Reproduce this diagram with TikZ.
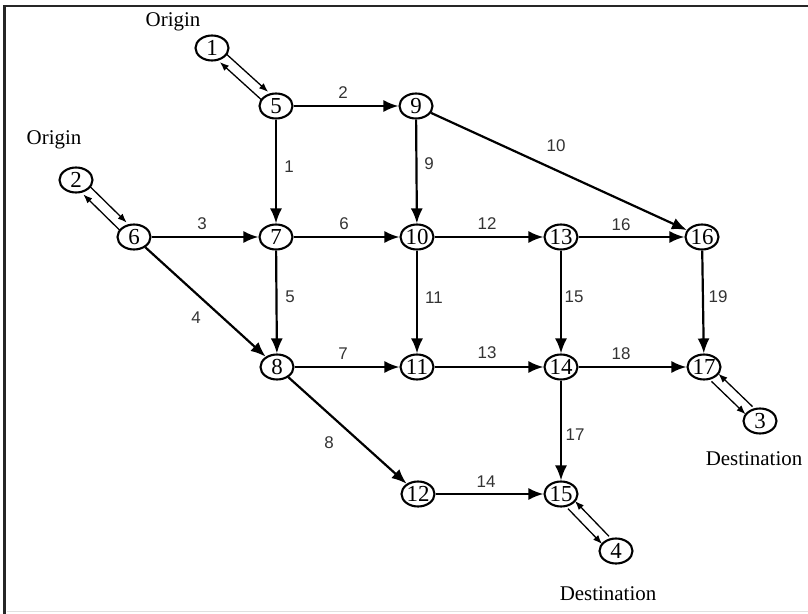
\documentclass[tikz,border=0pt]{standalone}
\usepackage{fontspec}
\setmainfont{Liberation Serif}
\newfontfamily\labelfont{Liberation Sans}
\usetikzlibrary{arrows.meta,shapes.geometric}

\begin{document}
\begin{tikzpicture}[x=1bp,y=-1bp,
  site/.style={ellipse, draw, line width=2.1bp, minimum width=33bp, minimum height=25bp,
    inner sep=0pt, font=\fontsize{23}{23}\selectfont},
  link/.style={line width=2.2bp, -{Latex[length=15bp,width=12bp]}},
  pair/.style={line width=1.3bp, -{Latex[length=9bp,width=7bp]}},
  upper/.style={transform canvas={xshift=3.5bp,yshift=3.8bp}},
  lower/.style={transform canvas={xshift=-3.5bp,yshift=-3.8bp}},
  num/.style={font=\labelfont\fontsize{17}{17}\selectfont, text=black!80, inner sep=0pt},
  tag/.style={font=\fontsize{21}{21}\selectfont, inner sep=0pt, anchor=base}
]
\useasboundingbox (0,0) rectangle (808,614);
\fill[white] (0,0) rectangle (808,614);

% frame
\draw[line width=2.5bp, black!85] (4.5,614) -- (4.5,6) -- (808,6);
\draw[line width=1bp, black!12] (7,611) -- (808,611);

% nodes
\node[site] (n1)  at (212,48)  {1};
\node[site] (n5)  at (276,106) {5};
\node[site] (n9)  at (416,106) {9};
\node[site] (n2)  at (76,180)  {2};
\node[site] (n6)  at (134,237) {6};
\node[site] (n7)  at (276,237) {7};
\node[site] (n10) at (417,237) {10};
\node[site] (n13) at (561,237) {13};
\node[site] (n16) at (702,237) {16};
\node[site] (n8)  at (277,367) {8};
\node[site] (n11) at (417,367) {11};
\node[site] (n14) at (561,367) {14};
\node[site] (n17) at (704,367) {17};
\node[site] (n3)  at (760,421) {3};
\node[site] (n12) at (418,494) {12};
\node[site] (n15) at (561,494) {15};
\node[site] (n4)  at (616,551) {4};

% links
\draw[link] (n5) -- (n9);
\draw[link] (n5) -- (n7);
\draw[link] (n9) -- (n10);
\draw[link] (n9) -- (n16);
\draw[link] (n6) -- (n7);
\draw[link] (n7) -- (n10);
\draw[link] (n10) -- (n13);
\draw[link] (n13) -- (n16);
\draw[link] (n6) -- (n8);
\draw[link] (n7) -- (n8);
\draw[link] (n10) -- (n11);
\draw[link] (n13) -- (n14);
\draw[link] (n16) -- (n17);
\draw[link] (n8) -- (n11);
\draw[link] (n11) -- (n14);
\draw[link] (n14) -- (n17);
\draw[link] (n8) -- (n12);
\draw[link] (n14) -- (n15);
\draw[link] (n12) -- (n15);

% two-way connectors to origins and destinations
\draw[pair, upper] (n1) -- (n5);
\draw[pair, lower] (n5) -- (n1);
\draw[pair, upper] (n2) -- (n6);
\draw[pair, lower] (n6) -- (n2);
\draw[pair, upper] (n3) -- (n17);
\draw[pair, lower] (n17) -- (n3);
\draw[pair, upper] (n4) -- (n15);
\draw[pair, lower] (n15) -- (n4);

% link numbers
\node[num] (l1)  at (289,167) {1};
\node[num] (l2)  at (343,93)  {2};
\node[num] (l3)  at (202,224) {3};
\node[num] (l4)  at (196,318) {4};
\node[num] (l5)  at (290,297) {5};
\node[num] (l6)  at (344,224) {6};
\node[num] (l7)  at (343,354) {7};
\node[num] (l8)  at (329,443) {8};
\node[num] (l9)  at (429,164) {9};
\node[num] (l10) at (556,146) {10};
\node[num] (l11) at (434,298) {11};
\node[num] (l12) at (487,224) {12};
\node[num] (l13) at (487,353) {13};
\node[num] (l14) at (486,482) {14};
\node[num] (l15) at (574,297) {15};
\node[num] (l16) at (621,225) {16};
\node[num] (l17) at (575,435) {17};
\node[num] (l18) at (621,354) {18};
\node[num] (l19) at (718,297) {19};

% captions
\node[tag] (o1) at (173,27)  {Origin};
\node[tag] (o2) at (54,145)  {Origin};
\node[tag] (d1) at (754,465) {Destination};
\node[tag] (d2) at (608,600) {Destination};
\end{tikzpicture}
\end{document}
